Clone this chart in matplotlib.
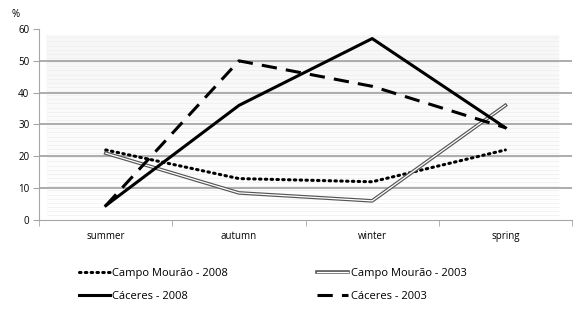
import matplotlib.pyplot as plt
import matplotlib.patheffects as pe
import numpy as np

plt.rcParams['font.family'] = ['Open Sans', 'DejaVu Sans']

# 数据
seasons = ['summer', 'autumn', 'winter', 'spring']
campo_2008 = [22, 13, 12, 22]
campo_2003 = [21, 8.5, 6, 36]
caceres_2008 = [4.5, 36, 57, 29]
caceres_2003 = [4.5, 50, 42, 29]

fig = plt.figure(figsize=(5.76, 3.12), dpi=100)
ax = fig.add_axes([0.068, 0.295, 0.925, 0.612])
x = np.arange(len(seasons))

# 背景的淡色条纹
ax.imshow(np.linspace(0.965, 0.995, 60).reshape(-1, 1) * np.ones((1, 10)),
          cmap='gray', vmin=0, vmax=1, aspect='auto',
          extent=[-0.45, 3.4, 1, 58], zorder=0)
for v in np.arange(1.5, 58, 1.3):
    ax.axhline(v, xmin=0.015, xmax=0.975, color='#ebebeb', lw=0.4, zorder=0.5)
for v in range(10, 60, 10):
    ax.axhline(v, color='#a6a6a6', lw=1.3, zorder=1)

l1, = ax.plot(x, campo_2008, color='black', lw=2.2, linestyle=(0, (0.5, 1.4)),
              dash_capstyle='round', label='Campo Mourão - 2008', zorder=3)
l2, = ax.plot(x, campo_2003, color='#555555', lw=2.6, label='Campo Mourão - 2003',
              path_effects=[pe.Stroke(linewidth=2.6, foreground='#555555'),
                            pe.Stroke(linewidth=0.9, foreground='white')],
              zorder=3)
l3, = ax.plot(x, caceres_2008, color='black', lw=2.2, label='Cáceres - 2008', zorder=4)
l4, = ax.plot(x, caceres_2003, color='black', lw=2.2, linestyle=(0, (5, 3)),
              label='Cáceres - 2003', zorder=4)

ax.set_xlim(-0.5, 3.5)
ax.set_ylim(0, 60)
ax.set_yticks(range(0, 61, 10))
ax.set_xticks(x)
ax.set_xticklabels(seasons)
ax.set_xticks(np.arange(-0.5, 3.6, 1), minor=True)
ax.tick_params(axis='x', which='major', length=0, pad=8, labelsize=7)
ax.tick_params(axis='x', which='minor', length=4, color='#a6a6a6')
ax.tick_params(axis='y', length=4, color='#a6a6a6', labelsize=7, pad=3)
for s in ['top', 'right']:
    ax.spines[s].set_visible(False)
ax.spines['left'].set_color('#a6a6a6')
ax.spines['bottom'].set_color('#a6a6a6')
fig.text(0.02, 0.955, '%', fontsize=7, ha='left', va='center')

fig.legend([l1, l3, l2, l4], [l1.get_label(), l3.get_label(), l2.get_label(), l4.get_label()],
           loc='lower left', bbox_to_anchor=(0.12, 0.0), ncol=2,
           frameon=False, fontsize=8, handlelength=2.8, handletextpad=0.2,
           columnspacing=8.0, labelspacing=1.1)
plt.savefig('out.png', dpi=100)
